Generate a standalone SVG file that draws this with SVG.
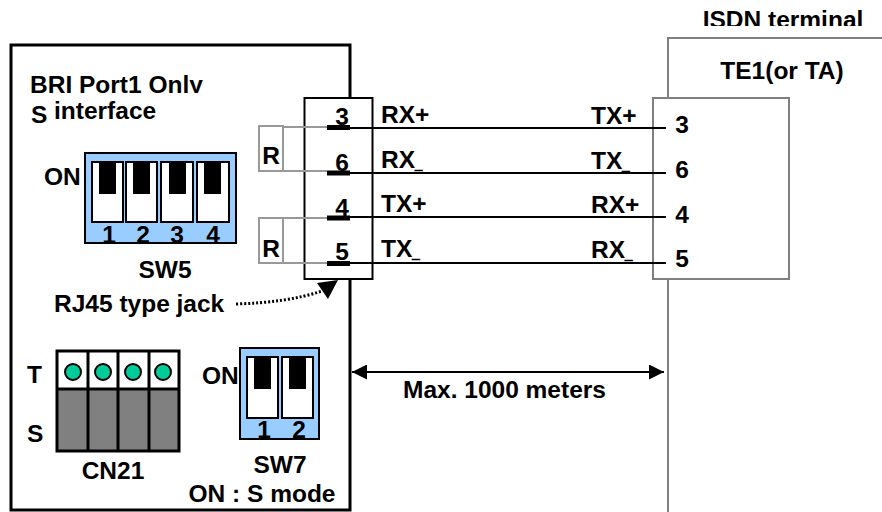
<svg xmlns="http://www.w3.org/2000/svg" width="882" height="512" viewBox="0 0 882 512">
<style>
text{font-family:"Liberation Sans",Arial,sans-serif;font-weight:bold;font-size:24.5px;fill:#000}
.m{text-anchor:middle}
.u{font-size:13px;stroke:#000;stroke-width:1}
.k{fill:none;stroke:#000;stroke-width:2}
.g{fill:none;stroke:#808080;stroke-width:2}
.gt{fill:none;stroke:#999;stroke-width:2}
.w{fill:#fff;stroke:#000;stroke-width:2}
.b{fill:#000}
.sw{fill:#99ccff;stroke:#000;stroke-width:2}
.pin{stroke:#000;stroke-width:5}
.c{fill:#00cc99;stroke:#000;stroke-width:2}
</style>
<defs>
<clipPath id="c1"><rect x="0" y="0" width="882" height="93"/></clipPath>
<clipPath id="c2"><rect x="0" y="0" width="882" height="26"/></clipPath>
<marker id="a" viewBox="0 0 10 10" refX="10" refY="5" markerWidth="20" markerHeight="15" markerUnits="userSpaceOnUse" orient="auto-start-reverse"><path d="M0 0L10 5L0 10z" fill="#000"/></marker>
</defs>
<g id="terminal">
<path class="g" d="M668 98V38H882M668 279V512"/>
<rect class="g" x="653" y="98" width="136" height="181" fill="#fff"/>
<text class="m" x="783" y="28" clip-path="url(#c2)">ISDN terminal</text>
<text class="m" x="782" y="79">TE1(or TA)</text>
<text class="m" x="682" y="133">3</text><text class="m" x="682" y="178">6</text><text class="m" x="682" y="223">4</text><text class="m" x="682" y="267">5</text>
</g>
<g id="device">
<rect x="11" y="45" width="339" height="465" fill="#fff" stroke="#000" stroke-width="3"/>
<text x="30" y="93" clip-path="url(#c1)">BRI Port1 Only</text>
<text x="31" y="123">S</text><text x="54" y="119">interface</text>
</g>
<g id="sw5">
<rect class="sw" x="85" y="153" width="151" height="90"/>
<rect class="w" x="92" y="162" width="31" height="60"/><rect class="w" x="126" y="162" width="31" height="60"/><rect class="w" x="161" y="162" width="32" height="60"/><rect class="w" x="197" y="162" width="32" height="60"/>
<rect class="b" x="99" y="162" width="17" height="32"/><rect class="b" x="133" y="162" width="17" height="32"/><rect class="b" x="169" y="162" width="17" height="32"/><rect class="b" x="204" y="162" width="17" height="32"/>
<text x="44" y="185">ON</text>
<text class="m" x="109" y="243">1</text><text class="m" x="143" y="243">2</text><text class="m" x="177" y="243">3</text><text class="m" x="213" y="243">4</text>
<text class="m" x="165" y="278">SW5</text>
</g>
<text x="54" y="312">RJ45 type jack</text>
<g id="cn21">
<rect x="57" y="351" width="122" height="38" fill="#fff"/>
<rect x="57" y="389" width="122" height="62" fill="#808080"/>
<path d="M57 351H179V451H57ZM57 389H179M88 351V451M118 351V451M149 351V451" fill="none" stroke="#000" stroke-width="3"/>
<circle class="c" cx="73" cy="372" r="8"/><circle class="c" cx="103" cy="372" r="8"/><circle class="c" cx="133" cy="372" r="8"/><circle class="c" cx="163" cy="372" r="8"/>
<text x="27" y="383">T</text><text x="27" y="442">S</text>
<text class="m" x="113" y="479">CN21</text>
</g>
<g id="sw7">
<rect class="sw" x="240" y="348" width="79" height="91"/>
<rect class="w" x="247" y="357" width="31" height="61"/><rect class="w" x="282" y="357" width="31" height="61"/>
<rect class="b" x="254" y="357" width="17" height="32"/><rect class="b" x="289" y="357" width="17" height="32"/>
<text x="202" y="384">ON</text>
<text class="m" x="264" y="438">1</text><text class="m" x="299" y="438">2</text>
<text class="m" x="280" y="473">SW7</text>
<text class="m" x="262" y="502">ON : S mode</text>
</g>
<g id="jack">
<rect x="304.500" y="98" width="68" height="181" fill="#fff" stroke="#000" stroke-width="2"/>
<text class="m" x="342" y="125">3</text><text class="m" x="342" y="171">6</text><text class="m" x="342" y="216">4</text><text class="m" x="342" y="260">5</text>
</g>
<g id="r1"><rect class="gt" x="259" y="126" width="24" height="45"/><text class="m" x="271" y="164">R</text></g>
<g id="r2"><rect class="gt" x="259" y="218" width="24" height="45"/><text class="m" x="271" y="257">R</text></g>
<g id="connectors">
<path class="gt" d="M283 127H327M283 171H327M283 218H327M283 263H327"/>
<path class="pin" d="M327 127.500H350M327 173H350M327 218H350M327 263.500H350"/>
<path class="k" d="M350 128H666M350 173H666M350 217H666M350 263H666"/>
<path fill="none" stroke="#000" stroke-width="3" stroke-dasharray="2 2" d="M236 304C270 303 298 299 322 291"/>
<path class="b" d="M338 280L317 283L328 299z"/>
<path class="k" d="M352 372H664" marker-start="url(#a)" marker-end="url(#a)"/>
</g>
<g id="labels">
<text x="381" y="123">RX+</text><text x="381" y="168">RX<tspan class="u" dy="1">_</tspan></text><text x="381" y="212">TX+</text><text x="381" y="257">TX<tspan class="u" dy="1">_</tspan></text>
<text x="591" y="124">TX+</text><text x="591" y="169">TX<tspan class="u" dy="1">_</tspan></text><text x="591" y="213">RX+</text><text x="591" y="258">RX<tspan class="u" dy="1">_</tspan></text>
<text x="403" y="398">Max. 1000 meters</text>
</g>
</svg>
